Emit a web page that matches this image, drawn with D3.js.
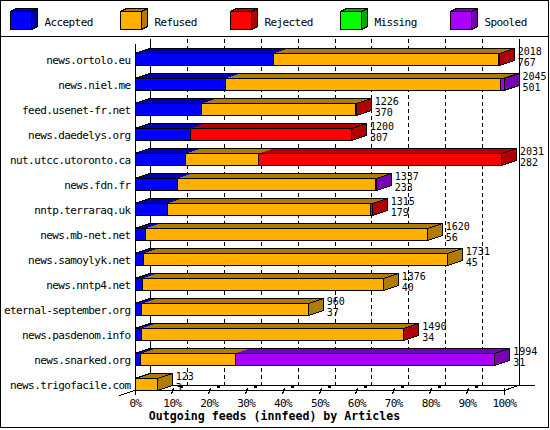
<!DOCTYPE html>
<html><head><meta charset="utf-8">
<script src="https://cdn.jsdelivr.net/npm/d3@7"></script>
<style>body{margin:0;background:#fff}svg{display:block}text{font-family:"DejaVu Sans Mono",monospace}.t{font-size:11px;letter-spacing:-0.6px}.v{font-size:10px}</style>
</head><body><svg id="c" width="550" height="430"></svg>
<script>
const servers = ["news.ortolo.eu","news.niel.me","feed.usenet-fr.net","news.daedelys.org","nut.utcc.utoronto.ca","news.fdn.fr","nntp.terraraq.uk","news.mb-net.net","news.samoylyk.net","news.nntp4.net","eternal-september.org","news.pasdenom.info","news.snarked.org","news.trigofacile.com"];
const totals   = [2018,2045,1226,1200,2031,1337,1315,1620,1731,1376,960,1490,1994,123];
const accepted = [767,501,370,307,282,233,179,56,45,40,37,34,31,3];
const refused  = [1245,1527,852,0,404,1100,1127,1564,1686,1336,923,1453,525,120];
const rejected = [6,0,4,893,1345,0,9,0,0,0,0,3,0,0];
const missing  = [0,0,0,0,0,0,0,0,0,0,0,0,0,0];
const spooled  = [0,17,0,0,0,4,0,0,0,0,0,0,1438,0];
const seriesNames = ["Accepted","Refused","Rejected","Missing","Spooled"];
const seriesData = [accepted, refused, rejected, missing, spooled];
const fronts = ["#0000FF","#FFB000","#FF0000","#00FF00","#AA00FF"];
const darks  = ["#0000B0","#B07C00","#B00000","#00A800","#7700B2"];
const pctTicks = [0,10,20,30,40,50,60,70,80,90,100];
const axisTitle = "Outgoing feeds (innfeed) by Articles";

const svg = d3.select("#c");
const DX = 15, DY = 5, BH = 12;
const x = d3.scaleLinear().domain([0, d3.max(totals)]).range([135, 504]);
const xp = d3.scaleLinear().domain([0, 100]).range([135, 504]);
const y = d3.scaleBand().domain(servers).range([48, 398]);
const g = svg.append("g").attr("shape-rendering","crispEdges");

// frame
g.append("rect").attr("x",0.5).attr("y",0.5).attr("width",548).attr("height",427).attr("fill","#fff").attr("stroke","#000");
g.append("line").attr("x1",0).attr("x2",549).attr("y1",36.5).attr("y2",36.5).attr("stroke","#000");

// legend
seriesNames.forEach((n,i)=>{
  const lx = 10.5 + 110*i, ly = 11.5, w = 21, h = 18, dx = 6, dy = 3;
  const lg = g.append("g");
  lg.append("path").attr("d",`M${lx},${ly}L${lx+dx},${ly-dy}L${lx+w+dx},${ly-dy}L${lx+w},${ly}Z`).attr("fill",darks[i]).attr("stroke","#000");
  lg.append("path").attr("d",`M${lx+w},${ly}L${lx+w+dx},${ly-dy}L${lx+w+dx},${ly+h-dy}L${lx+w},${ly+h}Z`).attr("fill",darks[i]).attr("stroke","#000");
  lg.append("rect").attr("x",lx).attr("y",ly).attr("width",w).attr("height",h).attr("fill",fronts[i]).attr("stroke","#000");
  svg.append("text").attr("class","t").attr("x",lx+34).attr("y",25.5).text(n);
});

// back grid
const yTop = 39, yBackFloor = 385.5, yFrontFloor = 390.5;
pctTicks.forEach(p=>{
  const bx = Math.round(xp(p)+DX)+0.5;
  g.append("line").attr("x1",bx).attr("x2",bx).attr("y1",yTop).attr("y2",yBackFloor)
   .attr("stroke","#000").attr("stroke-dasharray",(p===0||p===100)?null:"4,3");
});
// floor
g.append("line").attr("x1",150).attr("x2",535).attr("y1",yBackFloor).attr("y2",yBackFloor).attr("stroke","#000");
g.append("line").attr("x1",135.5).attr("x2",135.5).attr("y1",44).attr("y2",395).attr("stroke","#000");
g.append("line").attr("x1",135).attr("x2",504.5).attr("y1",yFrontFloor).attr("y2",yFrontFloor).attr("stroke","#000");
g.append("line").attr("x1",150.5).attr("y1",385).attr("x2",119.5).attr("y2",395.5).attr("stroke","#000");
g.append("line").attr("x1",519.5).attr("y1",385).attr("x2",504.5).attr("y2",390.5).attr("stroke","#000");
pctTicks.forEach(p=>{
  const fx = Math.round(xp(p))+0.5;
  if (p===0||p===100) {
    g.append("line").attr("x1",fx).attr("x2",fx).attr("y1",388).attr("y2",395).attr("stroke","#000");
  } else {
    g.append("line").attr("x1",fx-1).attr("y1",394).attr("x2",fx+1).attr("y2",388).attr("stroke","#000");
    g.append("rect").attr("x",fx+7).attr("y",385).attr("width",3).attr("height",3).attr("fill","#000");
  }
  svg.append("text").attr("class","t").attr("x",xp(p)+0.5).attr("y",406.5).attr("text-anchor","middle").text(p+"%");
});

// bars
servers.forEach((s,i)=>{
  const ft = Math.round(y(s)) + DY + 0.5, fb = ft + BH;
  let cum = 0, last = 0;
  const segs = [];
  seriesData.forEach((arr,k)=>{
    const v = arr[i];
    if (v>0) { segs.push({k, x0:x(cum), x1:x(cum+v)}); cum += v; last = k; }
  });
  const xs = x(0), xe = x(totals[i]);
  const bg = g.append("g");
  segs.forEach(sg=>{
    bg.append("path").attr("d",`M${sg.x0},${ft}L${sg.x0+DX},${ft-DY}L${sg.x1+DX},${ft-DY}L${sg.x1},${ft}Z`).attr("fill",darks[sg.k]);
  });
  bg.append("path").attr("d",`M${xs},${ft}L${xs+DX},${ft-DY}L${xe+DX},${ft-DY}L${xe},${ft}Z`).attr("fill","none").attr("stroke","#000");
  bg.append("path").attr("d",`M${xe},${ft}L${xe+DX},${ft-DY}L${xe+DX},${fb-DY}L${xe},${fb}Z`).attr("fill",darks[last]).attr("stroke","#000");
  segs.forEach(sg=>{
    bg.append("rect").attr("x",sg.x0).attr("y",ft).attr("width",Math.max(0,sg.x1-sg.x0)).attr("height",BH).attr("fill",fronts[sg.k]).attr("stroke","#000");
  });
  svg.append("text").attr("class","t").attr("x",130.5).attr("y",ft+10).attr("text-anchor","end").text(s);
  svg.append("text").attr("class","v").attr("x",xe+DX+3.5).attr("y",ft+1.5).text(totals[i]);
  svg.append("text").attr("class","v").attr("x",xe+DX+3.5).attr("y",ft+12.5).text(accepted[i]);
});

svg.append("text").attr("x",274.5).attr("y",420).attr("text-anchor","middle").attr("font-size",11.6).attr("font-weight","bold").text(axisTitle);
</script></body></html>
